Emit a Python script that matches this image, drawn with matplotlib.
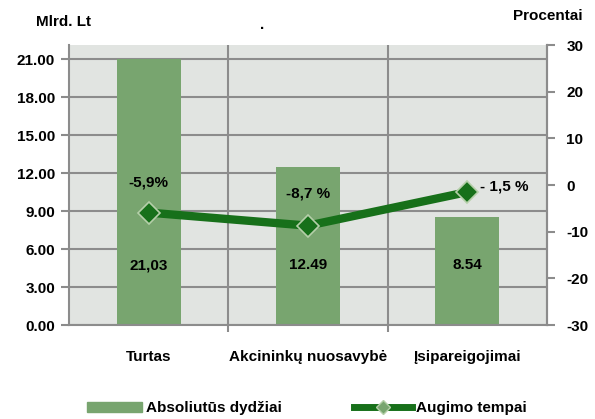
import matplotlib.pyplot as plt
import matplotlib.ticker as mticker
from matplotlib.lines import Line2D
from matplotlib.patches import Patch

plt.rcParams['font.family'] = ['Liberation Sans', 'DejaVu Sans']
plt.rcParams['font.weight'] = 'bold'
plt.rcParams['axes.unicode_minus'] = False

categories = ['Turtas', 'Akcininkų nuosavybė', 'Įsipareigojimai']
values = [21.03, 12.49, 8.54]
value_labels = ['21,03', '12.49', '8.54']
growth = [-5.9, -8.7, -1.5]
growth_labels = ['-5,9%', '-8,7 %', '- 1,5 %']

BAR = '#78a56f'
LINE = '#17701a'
GRID = '#8c8c8c'
BG = '#e1e4e1'
FS = 11

fig = plt.figure(figsize=(5.95, 4.19), dpi=100)
ax = fig.add_axes([0.116, 0.2243, 0.803, 0.668])
ax.set_facecolor(BG)

x = list(range(len(categories)))
ax.bar(x, values, width=0.4, color=BAR, zorder=2)
ax.set_xlim(-0.5, 2.5)
ax.set_ylim(0, 22.1)
ax.set_yticks([0, 3, 6, 9, 12, 15, 18, 21])
ax.yaxis.set_major_formatter(mticker.FormatStrFormatter('%.2f'))
ax.set_xticks(x)
ax.set_xticklabels(categories, fontweight='bold')
ax.set_xticks([0.5, 1.5], minor=True)
ax.tick_params(axis='x', which='major', length=0, pad=18, labelsize=FS)
ax.tick_params(axis='x', which='minor', length=5, color=GRID, width=1.5)
ax.tick_params(axis='y', length=6, color=GRID, width=1.5, labelsize=FS, pad=4)
for t in ax.get_yticklabels():
    t.set_fontweight('bold')
ax.grid(axis='y', color=GRID, linewidth=1.5, zorder=1)
ax.grid(axis='x', which='minor', color=GRID, linewidth=1.5, zorder=1)
ax.spines['top'].set_visible(False)
for s in ['left', 'bottom', 'right']:
    ax.spines[s].set_color(GRID)
    ax.spines[s].set_linewidth(1.5)

for xi, lab in zip(x, value_labels):
    ax.text(xi, 4.7, lab, ha='center', va='center', fontsize=FS, fontweight='bold', zorder=5)

ax2 = ax.twinx()
ax2.set_ylim(-30, 30)
ax2.set_yticks([-30, -20, -10, 0, 10, 20, 30])
ax2.plot(x, growth, color=LINE, linewidth=6, marker='D', markersize=11,
         markerfacecolor=LINE, markeredgecolor='#b5cfa9', markeredgewidth=1.2, zorder=4)
ax2.tick_params(axis='y', length=6, color=GRID, width=1.5, labelsize=FS, pad=8)
for t in ax2.get_yticklabels():
    t.set_fontweight('bold')
for s in ['top', 'left', 'bottom']:
    ax2.spines[s].set_visible(False)
ax2.spines['right'].set_color(GRID)
ax2.spines['right'].set_linewidth(1.5)

label_pos = [(0, 0.5), (1, -1.7), (2.23, -0.2)]
for (lx, ly), lab in zip(label_pos, growth_labels):
    ax2.text(lx, ly, lab, ha='center', va='center', fontsize=FS, fontweight='bold', zorder=6)

fig.text(0.06, 0.948, 'Mlrd. Lt', ha='left', va='center', fontsize=FS, fontweight='bold')
fig.text(0.44, 0.94, '.', ha='center', va='center', fontsize=FS, fontweight='bold')
fig.text(0.98, 0.962, 'Procentai', ha='right', va='center', fontsize=FS, fontweight='bold')

handles = [Patch(color=BAR), Line2D([], [], color=LINE, linewidth=5, marker='D', markersize=7,
                                     markerfacecolor='#78a56f', markeredgecolor='#b5cfa9')]
fig.legend(handles[:1], ['Absoliutūs dydžiai'], loc='center', bbox_to_anchor=(0.31, 0.026),
           frameon=False, prop={'size': FS, 'weight': 'bold'},
           handlelength=3.6, handleheight=0.6, handletextpad=0.3)
fig.legend(handles[1:], ['Augimo tempai'], loc='center', bbox_to_anchor=(0.74, 0.026),
           frameon=False, prop={'size': FS, 'weight': 'bold'},
           handlelength=3.8, handletextpad=0.3)

fig.savefig('out.png', dpi=100)
